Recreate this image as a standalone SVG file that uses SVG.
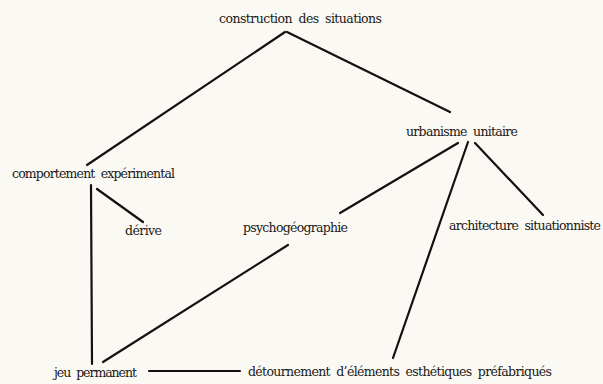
<svg xmlns="http://www.w3.org/2000/svg" width="603" height="384" viewBox="0 0 603 384">
  <style>
    text { font-family: "DejaVu Serif", serif; font-size: 12.5px; word-spacing: 3px; fill: #1a1816; }
    .edge { stroke: #141210; stroke-width: 2.2; stroke-linecap: round; fill: none; }
  </style>
  <rect width="603" height="384" fill="#fbf9f4"/>
  <g id="connectors">
    <line class="edge" x1="285" y1="32" x2="87" y2="165"/>
    <line class="edge" x1="287" y1="32" x2="450" y2="112"/>
    <line class="edge" x1="458" y1="143" x2="340" y2="213"/>
    <line class="edge" x1="468" y1="142" x2="393" y2="358"/>
    <line class="edge" x1="475" y1="143" x2="543" y2="215"/>
    <line class="edge" x1="91" y1="185" x2="92" y2="364"/>
    <line class="edge" x1="97" y1="189" x2="143" y2="222"/>
    <line class="edge" x1="288" y1="245" x2="103" y2="362"/>
    <line class="edge" x1="149" y1="371" x2="240" y2="371"/>
  </g>
  <g id="construction">
    <text x="219" y="23" textLength="163" lengthAdjust="spacing">construction des situations</text>
  </g>
  <g id="urbanisme">
    <text x="406" y="136" textLength="112" lengthAdjust="spacing">urbanisme unitaire</text>
  </g>
  <g id="comportement">
    <text x="12" y="178" textLength="163" lengthAdjust="spacing">comportement expérimental</text>
  </g>
  <g id="derive">
    <text x="125" y="235" textLength="37" lengthAdjust="spacing">dérive</text>
  </g>
  <g id="psychogeographie">
    <text x="243" y="232" textLength="105" lengthAdjust="spacing">psychogéographie</text>
  </g>
  <g id="architecture">
    <text x="449" y="230" textLength="152" lengthAdjust="spacing">architecture situationniste</text>
  </g>
  <g id="jeu">
    <text x="54" y="377" textLength="83" lengthAdjust="spacing">jeu permanent</text>
  </g>
  <g id="detournement">
    <text x="248" y="376" textLength="304" lengthAdjust="spacing">détournement d’éléments esthétiques préfabriqués</text>
  </g>
</svg>
